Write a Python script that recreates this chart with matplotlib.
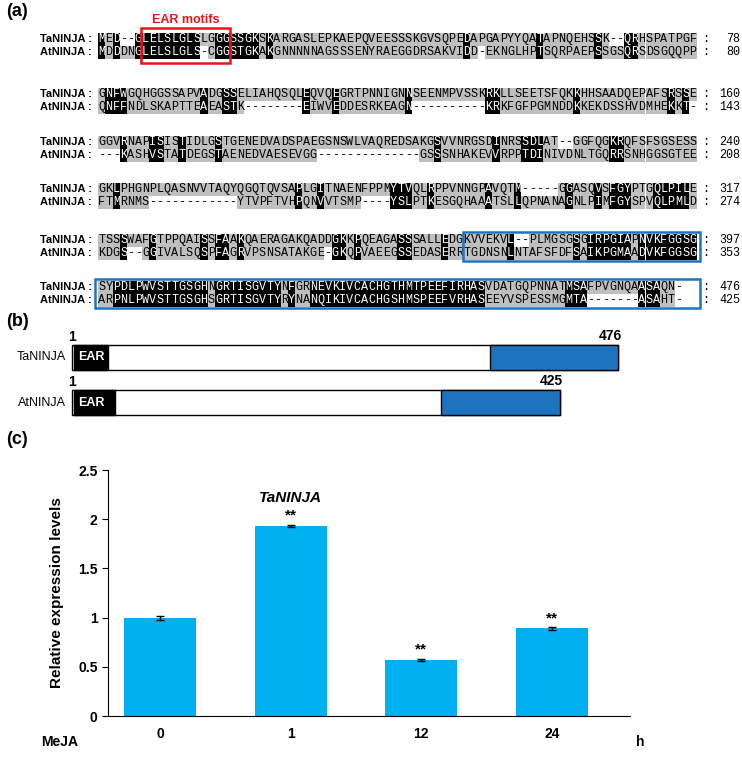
import matplotlib
matplotlib.use('Agg')
import matplotlib.pyplot as plt
from matplotlib.patches import Rectangle

# ---------------- data ----------------
seq_names = ["TaNINJA", "AtNINJA"]
ta_blocks = [
    "MED--GLELSLGLSLGGGSSGKSKARGASLEPKAEPQVEESSSKGVSQPEDAPGAPYYQATAPNQEHSSK--QRHSPATPGF",
    "GNFWGQHGGSSAPVADGSSELIAHQSQLEQVQEGRTPNNIGNNSEENMPVSSKRKLLSEETSFQKKHHSAADQEPAFSRSSE",
    "GGVRNAPISISTIDLGSTGENEDVADSPAEGSNSWLVAQREDSAKGSVVNRGSDINRSSDLAT--GGFQGKRQFSFSGSESS",
    "GKLPHGNPLQASNVVTAQYQGQTQVSAPLGITNAENFPPMYTVQLRPPVNNGPAVQTM-----GGASQVSFGYPTGQLPILE",
    "TSSSWAFGTPPQAISSFAAKQAERAGAKQADDGKKPQEAGASSSALLEDGKVVEKVL--PLMGSGSGIRPGIAPNVKFGGSG",
    "SYPDLPWVSTTGSGHNGRTISGVTYNFGRNEVKIVCACHGTHMTPEEFIRHASVDATGQPNNATMSAFPVGNQAASAQN-",
]
at_blocks = [
    "MDDDNGLELSLGLS-CGGSTGKAKGNNNNNAGSSSENYRAEGGDRSAKVIDD-EKNGLHPTSQRPAEPSSGSQRSDSGQQPP",
    "QNFFNDLSKAPTTEAEASTK--------EIWVEDDESRKEAGN----------KRKFGFPGMNDDKKEKDSSHVDMHEKKT-",
    "---KASHVSTATDEGSTAENEDVAESEVGG--------------GSSSNHAKEVVRPPTDINIVDNLTGQRRSNHGGSGTEE",
    "FTMRNMS------------YTVPFTVHPQNVVTSMP----YSLPTKESGQHAAATSLLQPNANAGNLPIMFGYSPVQLPMLD",
    "KDGS--GGIVALSQSPFAGRVPSNSATAKGE-GKQPVAEEGSSEDASERRTGDNSNLNTAFSFDFSAIKPGMAADVKFGGSG",
    "ARPNLPWVSTTGSGHSGRTISGVTYRYNANQIKIVCACHGSHMSPEEFVRHASEEYVSPESSMGMTA-------ASAHT-",
]
ta_ends = [78, 160, 240, 317, 397, 476]
at_ends = [80, 143, 208, 274, 353, 425]
sim_groups = ["DN", "EQ", "ST", "KR", "FYW", "LIVM"]

domain_len = [476, 425]
ear_len = [30, 36]
cterm_start = [364, 322]

times = ["0", "1", "12", "24"]
expr = [1.0, 1.93, 0.57, 0.89]
err = [0.02, 0.012, 0.01, 0.015]
signif = ["", "**", "**", "**"]

# ---------------- figure ----------------
W, H = 742, 762
fig = plt.figure(figsize=(W / 100, H / 100), dpi=100)
ax = fig.add_axes([0, 0, 1, 1])
ax.set_xlim(0, W)
ax.set_ylim(H, 0)
ax.axis('off')

mono = 'Liberation Mono'
sans = 'Liberation Sans'

# ---------- panel (a) ----------
ax.text(6, 12, "(a)", fontsize=13, fontweight='bold', family=sans, va='center')
x0, cw, ch = 98, 7.3, 13
ta_y = [39, 94, 142, 189, 240, 287]
gap = 13


def similar(a, b):
    return any(a in g and b in g for g in sim_groups)


for bi, (ta, at) in enumerate(zip(ta_blocks, at_blocks)):
    ys = [ta_y[bi], ta_y[bi] + gap]
    for row, (seq, y, end) in enumerate(zip([ta, at], ys, [ta_ends[bi], at_ends[bi]])):
        ax.text(92, y, seq_names[row] + " :", fontsize=8, fontweight='bold', family=sans,
                ha='right', va='center')
        ax.text(706, y, ":", fontsize=8.5, family=mono, ha='center', va='center')
        ax.text(740, y, str(end), fontsize=8.5, family=mono, ha='right', va='center')
    for ci in range(max(len(ta), len(at))):
        a = ta[ci] if ci < len(ta) else ' '
        b = at[ci] if ci < len(at) else ' '
        black = a not in '- ' and b not in '- ' and (a == b or similar(a, b))
        for ch_, y in zip([a, b], ys):
            xc = x0 + (ci + 0.5) * cw
            tc = 'black'
            if ch_ not in '- ':
                shade = 'k' if black else '#bfbfbf'
                ax.add_patch(Rectangle((x0 + ci * cw, y - ch / 2), cw, ch, facecolor=shade,
                                       edgecolor='none', zorder=1))
                if black:
                    tc = 'white'
            ax.text(xc, y, ch_, fontsize=8.5, family=mono, ha='center', va='center',
                    color=tc, zorder=2)

# EAR motif box
ax.add_patch(Rectangle((x0 + 6 * cw - 1, ta_y[0] - 11), 12 * cw + 2, gap + 22, fill=False,
                       edgecolor='#e8141c', lw=1.8, zorder=3))
ax.text(x0 + 12 * cw, 20, "EAR motifs", color='#e8141c', fontsize=9, fontweight='bold',
        family=sans, ha='center', va='center')
# C-terminal box
blue = '#1e73be'
ax.add_patch(Rectangle((x0 + 50 * cw, ta_y[4] - 8), 32 * cw + 3, gap + 16, fill=False,
                       edgecolor=blue, lw=1.8, zorder=3))
ax.add_patch(Rectangle((x0 - 3, ta_y[5] - 8), 82 * cw + 6, gap + 16, fill=False,
                       edgecolor=blue, lw=1.8, zorder=3))

# ---------- panel (b) ----------
ax.text(6, 322, "(b)", fontsize=13, fontweight='bold', family=sans, va='center')
bx0 = 72
scale = 546 / 476
bar_y = [345, 390]
bar_h = 25
for i, name in enumerate(seq_names):
    y = bar_y[i]
    L = domain_len[i] * scale
    ax.add_patch(Rectangle((bx0, y), L, bar_h, facecolor='white', edgecolor='black', lw=1))
    ax.add_patch(Rectangle((bx0 + 2, y), ear_len[i] * scale, bar_h, facecolor='black',
                           edgecolor='black', lw=1))
    ax.add_patch(Rectangle((bx0 + cterm_start[i] * scale, y), (domain_len[i] - cterm_start[i]) * scale,
                           bar_h, facecolor=blue, edgecolor='black', lw=1))
    ax.text(bx0 + 6, y + bar_h / 2, "EAR", color='white', fontsize=9, fontweight='bold',
            family=sans, va='center')
    ax.text(bx0 - 6, y + bar_h / 2, name, fontsize=9, family=sans,
            ha='right', va='center')
    ax.text(bx0, y - 8, "1", fontsize=10, fontweight='bold', family=sans, ha='center', va='center')
    ax.text(bx0 + L - 8, y - 9, str(domain_len[i]), fontsize=10, fontweight='bold', family=sans,
            ha='center', va='center')

# ---------- panel (c) ----------
ax.text(6, 440, "(c)", fontsize=13, fontweight='bold', family=sans, va='center')
pl, pr, pt, pb = 108, 630, 470, 716
cax = fig.add_axes([pl / W, 1 - pb / H, (pr - pl) / W, (pb - pt) / H])
xs = range(len(times))
cax.bar(xs, expr, width=0.55, color='#00b0f0', yerr=err, capsize=3,
        error_kw=dict(elinewidth=1, capthick=1, ecolor='black'))
cax.set_xlim(-0.4, 3.6)
cax.set_ylim(0, 2.5)
cax.set_yticks([0, 0.5, 1, 1.5, 2, 2.5])
cax.set_yticklabels(["0", "0.5", "1", "1.5", "2", "2.5"], fontweight='bold', family=sans, fontsize=10)
cax.set_xticks(list(xs))
cax.set_xticklabels(times, fontweight='bold', family=sans, fontsize=10)
cax.tick_params(axis='x', length=0, pad=8)
cax.tick_params(axis='y', direction='out', length=4)
for s in ['top', 'right']:
    cax.spines[s].set_visible(False)
for i, s in enumerate(signif):
    if s:
        cax.text(i, expr[i] + err[i] + 0.02, s, ha='center', va='bottom', fontsize=11,
                 fontweight='bold', family=sans)
cax.text(1, 2.22, "TaNINJA", ha='center', va='center', fontsize=11, fontweight='bold',
         style='italic', family=sans)
cax.set_ylabel("Relative expression levels", fontsize=11, fontweight='bold', family=sans,
               labelpad=10)
ax.text(60, 742, "MeJA", fontsize=10, fontweight='bold', family=sans, ha='center', va='center')
ax.text(640, 742, "h", fontsize=10, fontweight='bold', family=sans, ha='center', va='center')

fig.savefig("out.png", dpi=100)
